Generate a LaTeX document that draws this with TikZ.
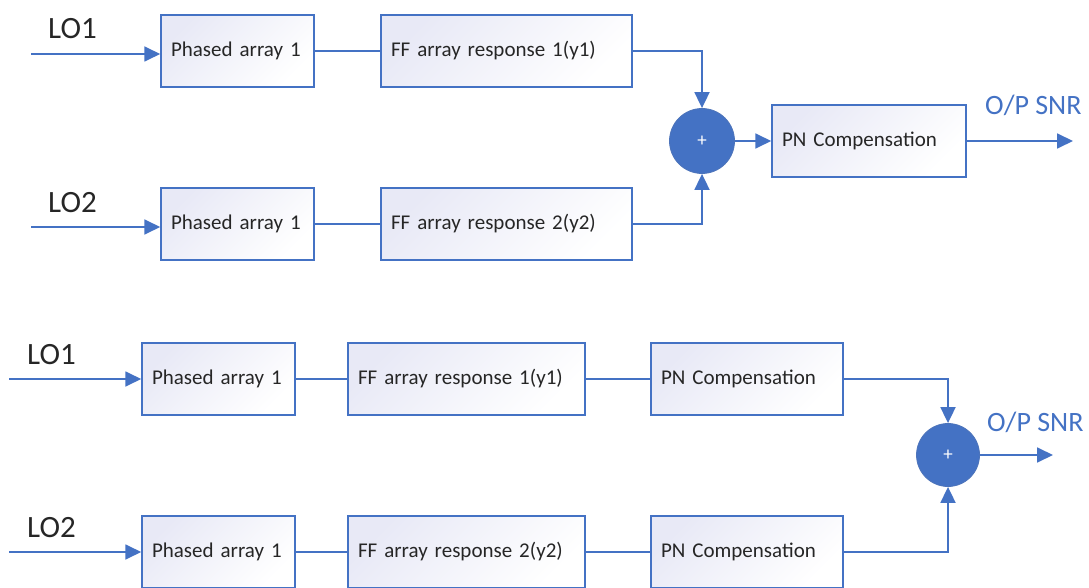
\documentclass[tikz,border=0pt]{standalone}
\usepackage{fontspec}
\setmainfont{Carlito}
\usetikzlibrary{arrows.meta,calc}
\definecolor{lineblue}{HTML}{4472C4}
\definecolor{boxlav}{HTML}{E8E9F6}
\definecolor{txt}{HTML}{262626}
\tikzset{
  blk/.style 2 args={draw=lineblue, line width=1.5pt,
    top color=boxlav, bottom color=white, shading angle=45,
    minimum width=#1, text width=#2, minimum height=72pt,
    inner xsep=10pt, align=left, text=txt,
    font=\fontsize{21pt}{25pt}\selectfont},
  sumnode/.style={circle, fill=lineblue, draw=lineblue!85!gray, line width=0.8pt,
    minimum size=#1, inner sep=0pt, text=white,
    font=\fontsize{19pt}{21pt}\selectfont},
  wire/.style={draw=lineblue, line width=1.8pt},
  arr/.style={wire, -{Triangle[length=16pt,width=15pt]}},
  lolabel/.style={anchor=base west, inner sep=0pt, text=txt,
    font=\fontsize{31pt}{36pt}\selectfont},
  snrlabel/.style={anchor=base west, inner sep=0pt, text=lineblue,
    font=\fontsize{28pt}{32pt}\selectfont}
}
\begin{document}
\begin{tikzpicture}[x=1pt,y=-1pt]
\useasboundingbox (0,0) rectangle (1089,588);

% ---- combining before phase-noise compensation ----
\node[lolabel] (lo1atxt) at (48,39) {LO1};
\node[lolabel] (lo2atxt) at (48,212) {LO2};
\coordinate (lo1a) at (31,54);
\coordinate (lo2a) at (31,227);

\node[blk={153pt}{133pt}] (pa1a) at (237.5,51) {Phased array 1};
\node[blk={251pt}{231pt}] (ff1a) at (506.5,51) {FF array response 1(y1)};
\node[blk={153pt}{133pt}] (pa2a) at (237.5,224) {Phased array 1};
\node[blk={251pt}{231pt}] (ff2a) at (506.5,224) {FF array response 2(y2)};
\node[sumnode=65pt] (suma) at (702,141) {+};
\node[blk={194pt}{174pt}] (pna) at (869,141) {PN Compensation};
\coordinate (outa) at (1073,141);
\node[snrlabel] (snra) at (985,115) {O/P SNR};

\draw[arr] (lo1a) -- (lo1a -| pa1a.west);
\draw[arr] (lo2a) -- (lo2a -| pa2a.west);
\draw[wire] (pa1a.east) -- (ff1a.west);
\draw[wire] (pa2a.east) -- (ff2a.west);
\draw[arr] (ff1a.east) -| (suma.north);
\draw[arr] (ff2a.east) -| (suma.south);
\draw[arr] (suma.east) -- (pna.west);
\draw[arr] (pna.east) -- (outa);

% ---- phase-noise compensation in each branch ----
\node[lolabel] (lo1btxt) at (27,364) {LO1};
\node[lolabel] (lo2btxt) at (27,537) {LO2};
\coordinate (lo1b) at (9,379);
\coordinate (lo2b) at (9,552);

\node[blk={153pt}{133pt}] (pa1b) at (218.5,379) {Phased array 1};
\node[blk={237pt}{217pt}] (ff1b) at (466.5,379) {FF array response 1(y1)};
\node[blk={192pt}{172pt}] (pn1b) at (747,379) {PN Compensation};
\node[blk={153pt}{133pt}] (pa2b) at (218.5,552) {Phased array 1};
\node[blk={237pt}{217pt}] (ff2b) at (466.5,552) {FF array response 2(y2)};
\node[blk={192pt}{172pt}] (pn2b) at (747,552) {PN Compensation};
\node[sumnode=63pt] (sumb) at (948,455) {+};
\coordinate (outb) at (1053,455);
\node[snrlabel] (snrb) at (987,431) {O/P SNR};

\draw[arr] (lo1b) -- (lo1b -| pa1b.west);
\draw[arr] (lo2b) -- (lo2b -| pa2b.west);
\draw[wire] (pa1b.east) -- (ff1b.west);
\draw[wire] (ff1b.east) -- (pn1b.west);
\draw[wire] (pa2b.east) -- (ff2b.west);
\draw[wire] (ff2b.east) -- (pn2b.west);
\draw[arr] (pn1b.east) -| (sumb.north);
\draw[arr] (pn2b.east) -| (sumb.south);
\draw[arr] (sumb.east) -- (outb);
\end{tikzpicture}
\end{document}
